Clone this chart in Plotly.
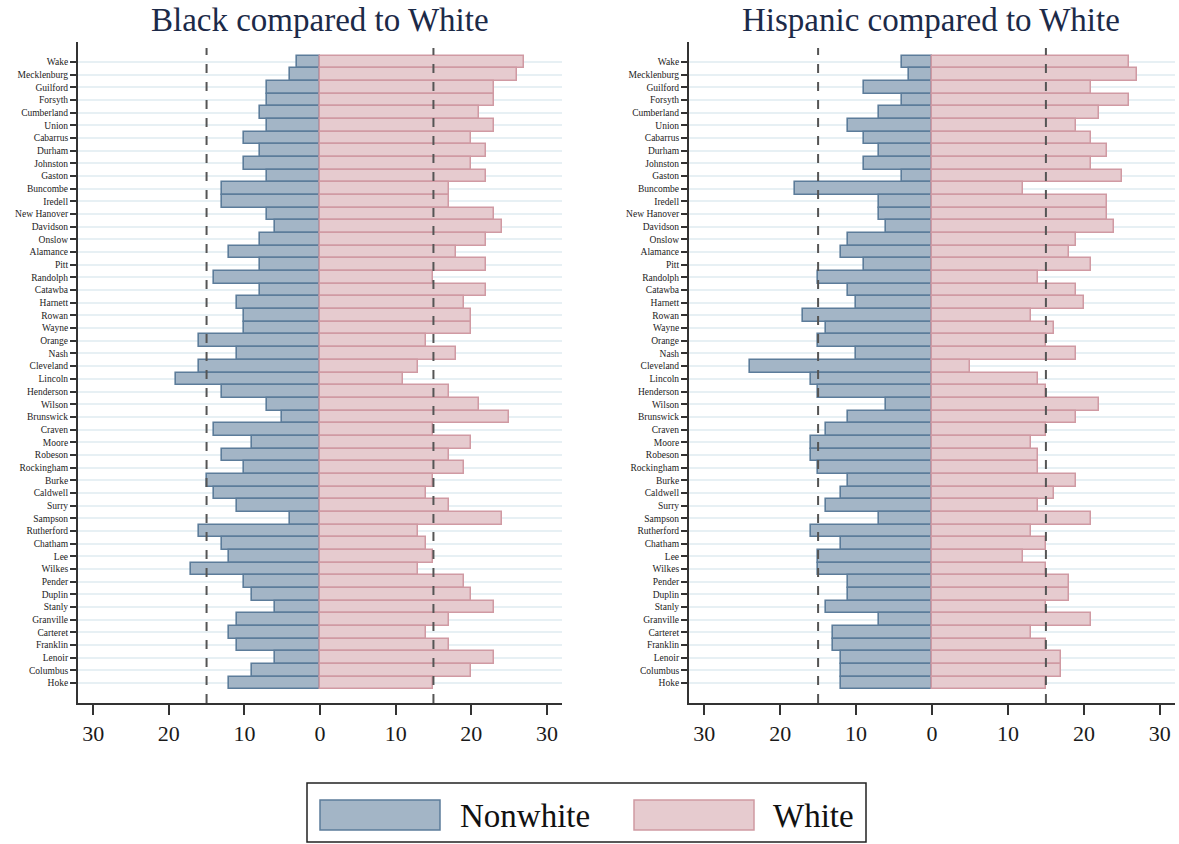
import plotly.graph_objects as go

counties = ["Wake", "Mecklenburg", "Guilford", "Forsyth", "Cumberland", "Union", "Cabarrus",
            "Durham", "Johnston", "Gaston", "Buncombe", "Iredell", "New Hanover", "Davidson",
            "Onslow", "Alamance", "Pitt", "Randolph", "Catawba", "Harnett", "Rowan", "Wayne",
            "Orange", "Nash", "Cleveland", "Lincoln", "Henderson", "Wilson", "Brunswick",
            "Craven", "Moore", "Robeson", "Rockingham", "Burke", "Caldwell", "Surry", "Sampson",
            "Rutherford", "Chatham", "Lee", "Wilkes", "Pender", "Duplin", "Stanly", "Granville",
            "Carteret", "Franklin", "Lenoir", "Columbus", "Hoke"]

# Black compared to White
black_nonwhite = [3, 4, 7, 7, 8, 7, 10, 8, 10, 7, 13, 13, 7, 6, 8, 12, 8,
                  14, 8, 11, 10, 10, 16, 11, 16, 19, 13, 7, 5, 14, 9, 13, 10,
                  15, 14, 11, 4, 16, 13, 12, 17, 10, 9, 6, 11, 12, 11, 6, 9, 12]
black_white = [27, 26, 23, 23, 21, 23, 20, 22, 20, 22, 17, 17, 23, 24, 22, 18, 22,
               15, 22, 19, 20, 20, 14, 18, 13, 11, 17, 21, 25, 15, 20, 17, 19,
               15, 14, 17, 24, 13, 14, 15, 13, 19, 20, 23, 17, 14, 17, 23, 20, 15]

# Hispanic compared to White
hisp_nonwhite = [4, 3, 9, 4, 7, 11, 9, 7, 9, 4, 18, 7, 7, 6, 11, 12, 9,
                 15, 11, 10, 17, 14, 15, 10, 24, 16, 15, 6, 11, 14, 16, 16, 15,
                 11, 12, 14, 7, 16, 12, 15, 15, 11, 11, 14, 7, 13, 13, 12, 12, 12]
hisp_white = [26, 27, 21, 26, 22, 19, 21, 23, 21, 25, 12, 23, 23, 24, 19, 18, 21,
              14, 19, 20, 13, 16, 15, 19, 5, 14, 15, 22, 19, 15, 13, 14, 14,
              19, 16, 14, 21, 13, 15, 12, 15, 18, 18, 15, 21, 13, 15, 17, 17, 15]

xtick_vals = [-30, -20, -10, 0, 10, 20, 30]
xtick_text = ["30", "20", "10", "0", "10", "20", "30"]
ref_lines = [-15, 15]

titles = ["Black compared to White", "Hispanic compared to White"]
legend_names = ["Nonwhite", "White"]

NW_FILL, NW_LINE = "#a3b5c6", "#5c7c9a"
W_FILL, W_LINE = "#e6cbcf", "#d09aa3"
SERIF = "Liberation Serif"

fig = go.Figure()

panels = [(black_nonwhite, black_white, "x", "y"), (hisp_nonwhite, hisp_white, "x2", "y2")]
for nw, wh, xa, ya in panels:
    fig.add_trace(go.Bar(y=counties, x=[-v for v in nw], orientation="h", width=1,
                         marker=dict(color=NW_FILL, line=dict(color=NW_LINE, width=1.6)),
                         name=legend_names[0], showlegend=False, xaxis=xa, yaxis=ya))
    fig.add_trace(go.Bar(y=counties, x=wh, orientation="h", width=1,
                         marker=dict(color=W_FILL, line=dict(color=W_LINE, width=1.5)),
                         name=legend_names[1], showlegend=False, xaxis=xa, yaxis=ya))

n = len(counties)
pad = 1.58
common_x = dict(range=[-32, 32], tickvals=xtick_vals, ticktext=xtick_text,
                showgrid=False, zeroline=False, showline=True, linecolor="#333333", linewidth=2,
                ticks="outside", ticklen=10, tickwidth=2, tickcolor="#333333",
                tickfont=dict(family=SERIF, size=22, color="#1a1a1a"), fixedrange=True)
common_y = dict(type="category", categoryorder="array", categoryarray=counties,
                range=[n - 1 + pad, -pad], showgrid=True, gridcolor="#e7f0f4", gridwidth=1.5,
                zeroline=False, showline=True, linecolor="#333333", linewidth=2,
                ticks="outside", ticklen=6, tickwidth=2, tickcolor="#333333",
                tickfont=dict(family=SERIF, size=9.5, color="#222222"), fixedrange=True)

dom_y = [1 - 703 / 844, 1 - 42 / 844]
fig.update_layout(
    width=1179, height=844,
    margin=dict(l=0, r=0, t=0, b=0),
    paper_bgcolor="white", plot_bgcolor="white",
    barmode="overlay", bargap=0,
    xaxis=dict(domain=[78 / 1179, 562 / 1179], anchor="y", **common_x),
    yaxis=dict(domain=dom_y, anchor="x", **common_y),
    xaxis2=dict(domain=[689 / 1179, 1175 / 1179], anchor="y2", **common_x),
    yaxis2=dict(domain=dom_y, anchor="x2", **common_y),
)

# reference dashed lines
for xa in ["x", "x2"]:
    for v in ref_lines:
        fig.add_shape(type="line", xref=xa, yref=("y domain" if xa == "x" else "y2 domain"),
                      x0=v, x1=v, y0=0, y1=0.991,
                      line=dict(color="#555555", width=2, dash="dash"), layer="above")

# titles
for t, cx in zip(titles, [320, 931]):
    fig.add_annotation(text=t, x=cx / 1179, y=1 - 20 / 844, xref="paper", yref="paper",
                       showarrow=False, xanchor="center", yanchor="middle",
                       font=dict(family=SERIF, size=33, color="#1c2a48"))

# legend box (drawn manually to match wide swatches)
def px(x):
    return x / 1179

def py(y):
    return 1 - y / 844

fig.add_shape(type="rect", xref="paper", yref="paper", x0=px(307), x1=px(866), y0=py(842), y1=py(783),
              line=dict(color="#222222", width=1.5), fillcolor="white")
fig.add_shape(type="rect", xref="paper", yref="paper", x0=px(320), x1=px(440), y0=py(830), y1=py(800),
              line=dict(color=NW_LINE, width=1.5), fillcolor=NW_FILL)
fig.add_shape(type="rect", xref="paper", yref="paper", x0=px(634), x1=px(754), y0=py(830), y1=py(800),
              line=dict(color=W_LINE, width=1.5), fillcolor=W_FILL)
for name, lx in zip(legend_names, [458, 771]):
    fig.add_annotation(text=name, x=px(lx), y=py(816), xref="paper", yref="paper",
                       showarrow=False, xanchor="left", yanchor="middle",
                       font=dict(family=SERIF, size=33, color="#111111"))

fig.write_html("out.html", config={"displayModeBar": False},
               post_script="document.body.style.margin='0';document.body.style.overflow='hidden';")
